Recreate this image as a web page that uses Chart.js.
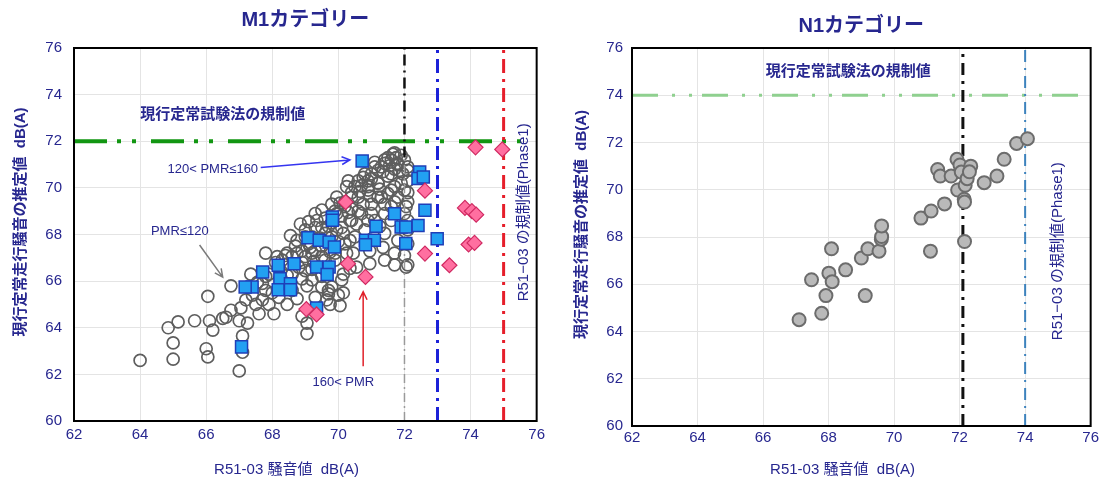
<!DOCTYPE html>
<html><head><meta charset="utf-8">
<title>M1 / N1 カテゴリー</title>
<style>
  body { margin: 0; background: #fff; width: 1102px; height: 488px; overflow: hidden; position: relative; }
  #m1Chart { position: absolute; left: 0; top: 0; }
  #n1Chart { position: absolute; left: 550px; top: 0; }
</style>
<script src="https://cdn.jsdelivr.net/npm/chart.js"></script>
</head>
<body>
<canvas id="m1Chart" width="550" height="488"></canvas>
<canvas id="n1Chart" width="552" height="488"></canvas>

<script>
// ---- data: [R51-03 dB(A), estimated current value dB(A)] ----
const xTicks = [62, 64, 66, 68, 70, 72, 74, 76];
const yTicks = [60, 62, 64, 66, 68, 70, 72, 74, 76];

// M1: PMR <= 120 (grey open circles)
const m1PmrLow = [
  [64.0,62.6],[64.85,64.0],[65.15,64.25],[65.0,63.35],[65.0,62.65],[65.65,64.3],[66.0,63.1],[66.05,62.75],
  [66.05,65.35],[66.1,64.3],[66.2,63.9],[66.5,64.4],[66.6,64.45],[66.75,64.75],[66.75,65.8],[67.0,62.15],
  [67.1,63.65],[67.0,64.3],[67.05,64.85],[67.2,65.2],[67.25,64.2],[67.6,64.6],[67.7,65.2],[68.05,64.6],
  [68.45,65.0],[68.75,65.25],[69.05,63.75],[69.05,64.2],[69.3,65.3],[69.65,65.2],[69.75,65.0],[70.05,64.95],
  [70.15,65.5],[69.7,65.45],[68.9,64.5],[67.8,65.6],[67.35,66.3],[67.55,65.95],[67.1,62.95],
  [67.8,67.2],[68.15,67.05],[68.55,67.95],[68.85,68.45],[69.1,68.55],[69.35,68.6],[69.6,68.05],[69.95,68.2],
  [70.2,69.2],[70.4,69.8],[70.25,70.05],[70.5,70.05],[70.75,70.45],[71.0,70.6],[71.2,70.75],[71.4,71.05],
  [71.6,71.2],[71.75,71.3],[71.5,71.3],[71.65,71.45],[71.8,71.05],[71.95,70.6],[72.1,70.75],[72.1,69.8],
  [72.05,69.2],[72.1,68.6],[72.05,66.6],[71.7,66.7],[71.4,66.9],[71.35,67.45],[70.95,67.3],[70.95,66.75],
  [70.55,66.6],[70.35,66.55],[70.45,67.2],[71.7,67.2],[71.8,67.75],[71.4,68.05],[71.6,68.6],[71.0,68.9],
  [70.55,68.45],[70.75,69.3],[71.2,69.6],[71.4,69.3],[71.6,69.2],[71.7,70.05],[70.9,70.05],[71.2,70.2],
  [69.95,69.6],[69.8,69.3],[69.5,69.05],[69.3,68.9],[69.0,68.2],[68.75,67.75],[69.1,67.6],[69.3,67.3],
  [69.5,67.05],[69.0,67.05],[68.75,67.2],[68.45,67.2],[68.25,66.45],[67.9,66.3],[67.8,66.2],[69.0,66.45],
  [69.2,66.05],[69.5,65.75],[69.8,65.75],[70.1,66.05],[70.15,66.3],[69.9,66.9],[70.25,67.2],[70.35,67.75],
  [70.15,68.05],[70.35,68.6],[69.95,68.9],
  [69.2,67.9],[69.5,68.3],[69.8,68.5],[70.1,68.8],[70.4,69.1],[70.6,69.6],[70.9,69.9],[71.2,70.2],
  [71.5,70.5],[71.7,70.8],[71.3,70.9],[71.0,70.4],[70.7,70.1],[70.4,69.6],[70.2,69.4],[69.9,69.0],
  [69.6,68.7],[69.3,68.3],[69.0,67.9],[68.7,67.5],[68.4,67.1],[68.1,66.8],[68.9,66.8],[69.2,67.2],
  [69.5,67.5],[69.8,67.9],[70.1,68.3],[70.4,68.6],[70.7,68.9],[71.0,69.3],[71.3,69.6],[71.6,69.9],
  [71.9,70.2],[70.5,67.9],[70.8,68.2],[71.1,68.6],[71.4,68.9],[71.7,69.4],[69.6,66.9],[69.9,67.2],
  [70.2,67.6],[68.6,66.3],[68.9,66.1],[69.2,66.5],[69.5,66.2],[68.3,65.8],[68.0,65.5],[67.7,65.9],
  [67.4,65.4],[67.9,65.0],[68.6,65.6],[69.7,65.6],[70.0,65.4],[71.6,70.6],[71.8,71.0],[71.4,71.2],
  [71.9,71.4],[71.1,70.9],[70.8,70.6],[72.1,70.9],[72.0,71.2],[71.7,71.5],[72.1,70.3],[72.0,69.9],
  [72.1,69.4],[72.0,68.9],[72.1,68.2],[72.1,67.6],[72.0,67.1],[72.1,66.7],
  [70.3,70.3],[70.6,70.3],[70.9,70.3],[71.1,71.1],[71.35,70.7],[71.55,70.95],[71.85,70.75],[70.65,69.85],
  [70.95,69.65],[71.25,69.95],[71.5,69.75],[71.8,69.6],[70.05,69.35],[70.3,68.95],[69.7,68.35],[69.45,67.85],
  [69.15,67.45],[68.9,67.3],[68.6,67.05],[68.3,66.9],[69.25,66.85],[69.55,66.55],[68.8,66.6],[68.45,66.25],
  [69.05,65.8],[68.2,65.3],[67.5,65.0],[70.6,69.0],[70.9,68.6],[71.25,68.35],[70.0,67.7],[69.75,67.25]
];

// M1: 120 < PMR <= 160 (blue squares)
const m1PmrMid = [
  [70.72,71.15],[72.46,70.68],[72.41,70.4],[72.57,70.47],[72.62,69.04],[72.41,68.39],[72.99,67.82],
  [71.9,68.32],[72.04,68.32],[72.04,67.61],[71.7,68.89],[71.14,68.35],[70.82,67.75],[71.09,67.75],
  [70.82,67.56],[69.82,68.75],[69.82,68.61],[69.08,67.86],[69.42,67.75],[69.72,67.68],[69.88,67.46],
  [68.66,66.75],[68.18,66.68],[67.71,66.39],[68.23,66.1],[68.18,65.63],[68.55,65.89],[68.55,65.63],
  [67.39,65.75],[67.18,65.75],[69.34,66.61],[69.72,66.61],[69.66,66.28],[69.34,64.85],[67.07,63.18]
];

// M1: 160 < PMR (pink diamonds)
const m1PmrHigh = [
  [74.15,71.74],[74.96,71.65],[72.62,69.88],[70.22,69.39],[73.83,69.14],[74.04,69.0],[74.17,68.85],
  [73.94,67.57],[74.12,67.64],[72.62,67.18],[73.36,66.68],[70.29,66.75],[70.82,66.18],[69.03,64.8],[69.34,64.57]
];

// N1 (grey filled circles)
const n1Points = [
  [67.1,64.5],[67.79,64.77],[67.92,65.52],[67.48,66.19],[68.01,66.47],[68.11,66.11],[68.09,67.5],[68.52,66.61],
  [69.12,65.52],[69.0,67.11],[69.2,67.5],[69.54,67.4],[69.61,67.91],[69.62,68.02],[69.62,68.47],[70.82,68.8],
  [71.13,69.1],[71.11,67.4],[71.54,69.4],[71.33,70.86],[71.41,70.58],[71.74,70.58],[71.92,71.29],[72.01,71.05],
  [71.94,69.99],[72.05,70.75],[72.17,70.19],[72.23,70.47],[72.34,71.0],[72.3,70.76],[72.14,69.6],[72.15,69.48],
  [72.15,67.81],[72.75,70.3],[73.14,70.58],[73.36,71.29],[73.74,71.96],[74.07,72.16]
];

// limit values
const m1CurrentLimit = 72;
const m1R51Limits = [72, 73, 75];
const n1CurrentLimit = 74;
const n1R51Limits = [72.1, 74];

// ---- helpers ----
const navy = '#27278f';
const fontFamily = "'Liberation Sans', 'Noto Sans CJK JP', sans-serif";
const toXY = arr => arr.map(p => ({ x: p[0], y: p[1] }));

function vLine(x, color, width, dash, y0, y1) {
  return {
    type: 'line', data: [{ x: x, y: y0 === undefined ? 60 : y0 }, { x: x, y: y1 === undefined ? 76 : y1 }],
    borderColor: color, borderWidth: width, borderDash: dash, pointRadius: 0, showLine: true, order: 5
  };
}
function hLine(y, color, width, dash) {
  return {
    type: 'line', data: [{ x: 62, y: y }, { x: 76, y: y }],
    borderColor: color, borderWidth: width, borderDash: dash, pointRadius: 0, showLine: true, order: 5
  };
}

// texts and arrows in data coordinates
const notesPlugin = {
  id: 'notes',
  afterDatasetsDraw(chart) {
    const { ctx, chartArea, scales } = chart;
    const cfg = chart.options.plugins.notes;
    const px = v => scales.x.getPixelForValue(v);
    const py = v => scales.y.getPixelForValue(v);
    ctx.save();
    (cfg.arrows || []).forEach(a => {
      const x0 = px(a.from[0]), y0 = py(a.from[1]), x1 = px(a.to[0]), y1 = py(a.to[1]);
      const ang = Math.atan2(y1 - y0, x1 - x0);
      ctx.strokeStyle = a.color;
      ctx.lineWidth = 1.5;
      ctx.beginPath();
      ctx.moveTo(x0, y0); ctx.lineTo(x1, y1);
      ctx.moveTo(x1 - 9 * Math.cos(ang - 0.45), y1 - 9 * Math.sin(ang - 0.45));
      ctx.lineTo(x1, y1);
      ctx.lineTo(x1 - 9 * Math.cos(ang + 0.45), y1 - 9 * Math.sin(ang + 0.45));
      ctx.stroke();
    });
    (cfg.texts || []).forEach(t => {
      ctx.save();
      ctx.translate(px(t.x), py(t.y));
      if (t.rotate) ctx.rotate(t.rotate);
      ctx.font = t.font;
      ctx.fillStyle = t.color || navy;
      ctx.textAlign = 'center';
      ctx.textBaseline = 'middle';
      ctx.fillText(t.text, 0, 0);
      ctx.restore();
    });
    // plot frame
    ctx.strokeStyle = '#000';
    ctx.lineWidth = 2;
    ctx.strokeRect(chartArea.left, chartArea.top, chartArea.right - chartArea.left, chartArea.bottom - chartArea.top);
    ctx.restore();
  }
};

function scaleOpts(yWidth, xHeight, yTitlePad, yTickPad, xTickPad) {
  return {
    x: {
      type: 'linear', min: 62, max: 76,
      afterBuildTicks: s => { s.ticks = xTicks.map(v => ({ value: v })); },
      afterFit: s => { s.height = xHeight; },
      grid: { color: '#e4e4e4', drawTicks: false },
      border: { display: false },
      ticks: { color: navy, padding: xTickPad, font: { family: fontFamily, size: 15 } },
      title: {
        display: true, text: 'R51-03 騒音値  dB(A)         ', color: navy,
        font: { family: fontFamily, size: 15 }, padding: { top: 0, bottom: 9 }
      }
    },
    y: {
      type: 'linear', min: 60, max: 76,
      afterBuildTicks: s => { s.ticks = yTicks.map(v => ({ value: v })); },
      afterFit: s => { s.width = yWidth; },
      grid: { color: '#e4e4e4', drawTicks: false },
      border: { display: false },
      ticks: { color: navy, padding: yTickPad, font: { family: fontFamily, size: 15 } },
      title: {
        display: true, text: '      現行定常走行騒音の推定値  dB(A)', color: navy,
        font: { family: fontFamily, size: 15, weight: 'bold' }, padding: { top: yTitlePad, bottom: 0 }
      }
    }
  };
}

// ---- M1 chart ----
new Chart(document.getElementById('m1Chart'), {
  type: 'scatter',
  data: {
    datasets: [
      { label: '160< PMR', data: toXY(m1PmrHigh), pointStyle: 'rectRot', pointRadius: 7.5,
        backgroundColor: '#ff6fa0', borderColor: '#d02a62', borderWidth: 1.2, order: 1 },
      { label: '120< PMR≤160', data: toXY(m1PmrMid), pointStyle: 'rect', pointRadius: 8.5,
        backgroundColor: '#22a0f2', borderColor: '#1f3fb8', borderWidth: 1.5, order: 2 },
      vLine(m1R51Limits[0], '#111', 2.5, [11, 5, 2, 5], 71.3, 76),
      vLine(m1R51Limits[0], '#9a9a9a', 1.5, [9, 4, 2, 4], 60, 71.3),
      vLine(m1R51Limits[1], '#1c22d8', 3, [14, 6, 3, 6]),
      vLine(m1R51Limits[2], '#e61e2a', 3, [14, 6, 3, 6]),
      hLine(m1CurrentLimit, '#129612', 4, [33, 10, 4, 11, 4, 15]),
      { label: 'PMR≤120', data: toXY(m1PmrLow), pointStyle: 'circle', pointRadius: 6,
        backgroundColor: 'rgba(255,255,255,0)', borderColor: '#5e5e5e', borderWidth: 1.7, order: 8 }
    ]
  },
  options: {
    responsive: false,
    animation: false,
    layout: { padding: { left: 0, right: 10, top: 0, bottom: 0 } },
    scales: scaleOpts(74, 67, 12, 12, 5),
    plugins: {
      legend: { display: false },
      tooltip: { enabled: false },
      title: {
        display: true, text: 'M1カテゴリー', color: navy, fullSize: false,
        font: { family: fontFamily, size: 20, weight: 'bold' }, padding: { top: 8, bottom: 16 }
      },
      notes: {
        texts: [
          { text: '現行定常試験法の規制値', x: 66.5, y: 73.15, font: 'bold 15px ' + fontFamily },
          { text: '120< PMR≤160', x: 66.2, y: 70.8, font: '13px ' + fontFamily },
          { text: 'PMR≤120', x: 65.2, y: 68.15, font: '13px ' + fontFamily },
          { text: '160< PMR', x: 70.15, y: 61.64, font: '13px ' + fontFamily },
          { text: 'R51−03 の規制値(Phase1)', x: 75.6, y: 68.95, rotate: -Math.PI / 2, font: '15px ' + fontFamily }
        ],
        arrows: [
          { from: [67.65, 70.87], to: [70.35, 71.2], color: '#3535f0' },
          { from: [65.8, 67.55], to: [66.5, 66.17], color: '#7a7a7a' },
          { from: [70.75, 62.35], to: [70.75, 65.55], color: '#e0202a' }
        ]
      }
    }
  },
  plugins: [notesPlugin]
});

// ---- N1 chart ----
new Chart(document.getElementById('n1Chart'), {
  type: 'scatter',
  data: {
    datasets: [
      { label: 'N1', data: toXY(n1Points), pointStyle: 'circle', pointRadius: 6.5,
        backgroundColor: '#b9b9b9', borderColor: '#6c6c6c', borderWidth: 2, order: 1 },
      vLine(n1R51Limits[0], '#111', 3, [12, 6, 3, 6]),
      vLine(n1R51Limits[1], '#3c82bd', 2, [12, 6, 2, 6]),
      hLine(n1CurrentLimit, '#8fd08f', 3, [26, 14, 3, 14, 3, 10])
    ]
  },
  options: {
    responsive: false,
    animation: false,
    layout: { padding: { left: 0, right: 11, top: 0, bottom: 0 } },
    scales: scaleOpts(82, 62, 23, 9, 3),
    plugins: {
      legend: { display: false },
      tooltip: { enabled: false },
      title: {
        display: true, text: 'N1カテゴリー', color: navy, fullSize: false,
        font: { family: fontFamily, size: 20, weight: 'bold' }, padding: { top: 14, bottom: 10 }
      },
      notes: {
        texts: [
          { text: '現行定常試験法の規制値', x: 68.6, y: 75.0, font: 'bold 15px ' + fontFamily },
          { text: 'R51−03 の規制値(Phase1)', x: 75.0, y: 67.4, rotate: -Math.PI / 2, font: '15px ' + fontFamily }
        ],
        arrows: []
      }
    }
  },
  plugins: [notesPlugin]
});
</script>
</body></html>
